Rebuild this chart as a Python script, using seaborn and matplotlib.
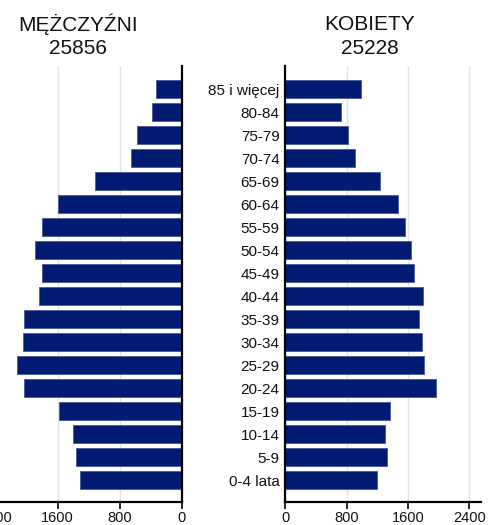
import matplotlib
matplotlib.use("Agg")
import matplotlib.pyplot as plt
import seaborn as sns
import pandas as pd

# --- data ---
age_groups = ["85 i więcej", "80-84", "75-79", "70-74", "65-69", "60-64",
              "55-59", "50-54", "45-49", "40-44", "35-39", "30-34",
              "25-29", "20-24", "15-19", "10-14", "5-9", "0-4 lata"]
men = [335, 383, 577, 658, 1123, 1596, 1799, 1890, 1799, 1837,
       2031, 2048, 2129, 2031, 1583, 1399, 1364, 1316]
women = [986, 730, 813, 904, 1230, 1473, 1556, 1634, 1681, 1794,
         1746, 1785, 1811, 1968, 1368, 1299, 1329, 1191]
men_total = "25856"
women_total = "25228"
x_ticks = [0, 800, 1600, 2400]

BAR = "#001b71"
EDGE = "#4a5a9a"
GRID = "#e4e4e4"

sns.set_style("white")
plt.rcParams['font.family'] = ['Liberation Sans', 'DejaVu Sans']

df = pd.DataFrame({'age': age_groups, 'men': men, 'women': women})

fig = plt.figure(figsize=(4.88, 5.25), dpi=100)
ax_m = fig.add_axes([-0.0328, 0.0433, 0.405, 0.831])
ax_f = fig.add_axes([0.5846, 0.0433, 0.401, 0.831])

for ax, col in [(ax_m, 'men'), (ax_f, 'women')]:
    sns.barplot(data=df, x=col, y='age', ax=ax, color=BAR, saturation=1,
                width=0.77, orient='h', edgecolor=EDGE, linewidth=0.6)
    ax.set_xlabel('')
    ax.set_ylabel('')
    ax.set_ylim(17.96, -1.0)
    ax.set_xticks(x_ticks)
    ax.xaxis.grid(True, color=GRID, linewidth=1)
    ax.set_axisbelow(True)
    ax.tick_params(axis='x', length=5, width=1.2, color='black',
                   labelsize=10.5, labelcolor='#111111', pad=1.5, bottom=True)
    ax.spines['top'].set_visible(False)
    for s in ax.spines.values():
        s.set_color('black')
        s.set_linewidth(1.6)

# men: reversed axis, spine on the right
ax_m.set_xlim(2550, 0)
ax_m.spines['left'].set_visible(False)
ax_m.set_yticks([])

# women: age labels on the left spine
ax_f.set_xlim(0, 2550)
ax_f.spines['right'].set_visible(False)
ax_f.tick_params(axis='y', length=0, pad=4, labelsize=11, labelcolor='#111111')

fig.text(78 / 488, 1 - 24 / 525, "MĘŻCZYŹNI", ha='center', va='center', fontsize=15, color='#111111')
fig.text(78 / 488, 1 - 49 / 525, men_total, ha='center', va='center', fontsize=15, color='#111111')
fig.text(370 / 488, 1 - 24 / 525, "KOBIETY", ha='center', va='center', fontsize=15, color='#111111')
fig.text(370 / 488, 1 - 49 / 525, women_total, ha='center', va='center', fontsize=15, color='#111111')

fig.savefig("out.png", dpi=100)
